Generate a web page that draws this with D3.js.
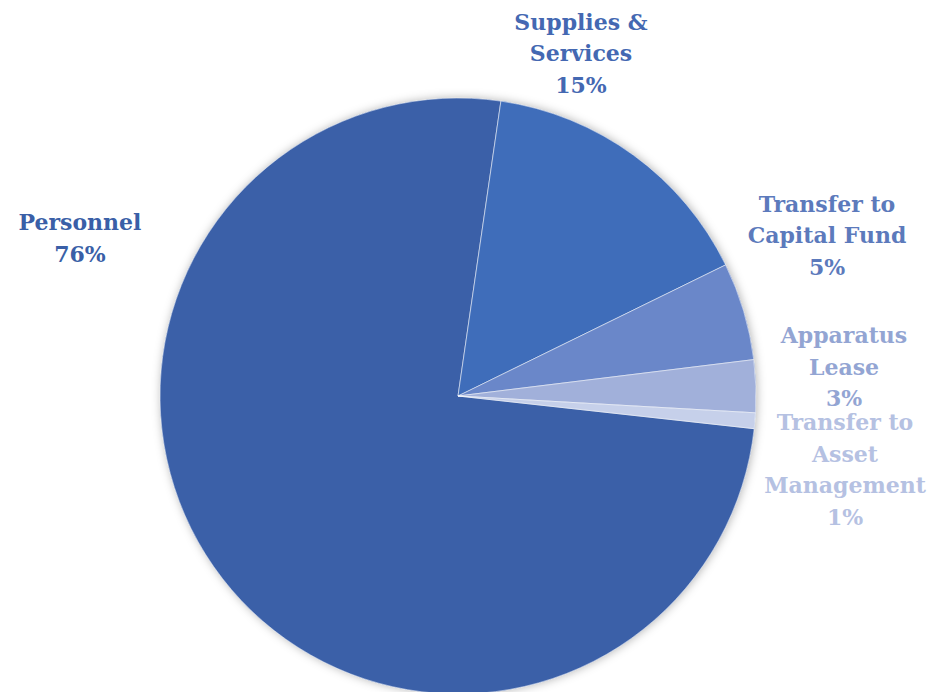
<!DOCTYPE html>
<html>
<head>
<meta charset="utf-8">
<script src="https://cdn.jsdelivr.net/npm/d3@7"></script>
<style>
  html, body { margin: 0; padding: 0; background: #ffffff; }
  svg { display: block; }
  .lbl { font-family: "DejaVu Serif", "Liberation Serif", serif; font-weight: bold; }
</style>
</head>
<body>
<script>
// Budget share by category (percent of total)
const categories = ["Personnel", "Supplies & Services", "Transfer to Capital Fund", "Apparatus Lease", "Transfer to Asset Management"];
const shares = [75.55, 15.45, 5.3, 2.85, 0.85];
// Label text broken into lines for each category
const labelLines = [
  ["Personnel"],
  ["Supplies &", "Services"],
  ["Transfer to", "Capital Fund"],
  ["Apparatus", "Lease"],
  ["Transfer to", "Asset", "Management"]
];

const sliceColors = ["#3b60a8", "#3f6dba", "#6a87c9", "#a1b0da", "#c6d0ea"];
const labelColors = ["#3a5fa7", "#4468b2", "#5c7abc", "#93a5d3", "#b5c1e2"];
// Label anchor: centre x and first baseline y
const labelPos = [
  [80, 230],
  [581, 29.5],
  [827, 211.5],
  [844, 343],
  [845, 430]
];

const W = 938, H = 692;
const cx = 458, cy = 396, R = 298;
const lineH = 31.6;

const svg = d3.select("body").append("svg").attr("width", W).attr("height", H);

const defs = svg.append("defs");
const f = defs.append("filter").attr("id", "pieShadow")
  .attr("x", "-10%").attr("y", "-10%").attr("width", "120%").attr("height", "120%");
f.append("feDropShadow").attr("dx", 1).attr("dy", 0).attr("stdDeviation", 5)
  .attr("flood-color", "#000").attr("flood-opacity", 0.3);

const data = categories.map((c, i) => ({ name: c, value: shares[i], lines: labelLines[i] }));

const rot = 96.3 * Math.PI / 180;
const pie = d3.pie().sort(null).value(d => d.value)
  .startAngle(rot).endAngle(rot + 2 * Math.PI);
const arc = d3.arc().innerRadius(0).outerRadius(R);

const g = svg.append("g").attr("transform", `translate(${cx},${cy})`);
g.append("circle").attr("r", R).attr("fill", sliceColors[0]).attr("filter", "url(#pieShadow)");

g.selectAll("path.slice").data(pie(data)).join("path")
  .attr("class", "slice")
  .attr("d", arc)
  .attr("fill", (d, i) => sliceColors[i])
  .attr("stroke", "rgba(255,255,255,0.55)")
  .attr("stroke-width", 1)
  .attr("stroke-linejoin", "round");

const fmt = v => Math.round(v) + "%";

data.forEach((d, i) => {
  const [x, y0] = labelPos[i];
  const t = svg.append("text").attr("class", "lbl")
    .attr("text-anchor", "middle")
    .attr("font-size", 22)
    .attr("fill", labelColors[i]);
  d.lines.concat([fmt(d.value)]).forEach((ln, k) => {
    t.append("tspan").attr("x", x).attr("y", y0 + k * lineH).text(ln);
  });
});
</script>
</body>
</html>
